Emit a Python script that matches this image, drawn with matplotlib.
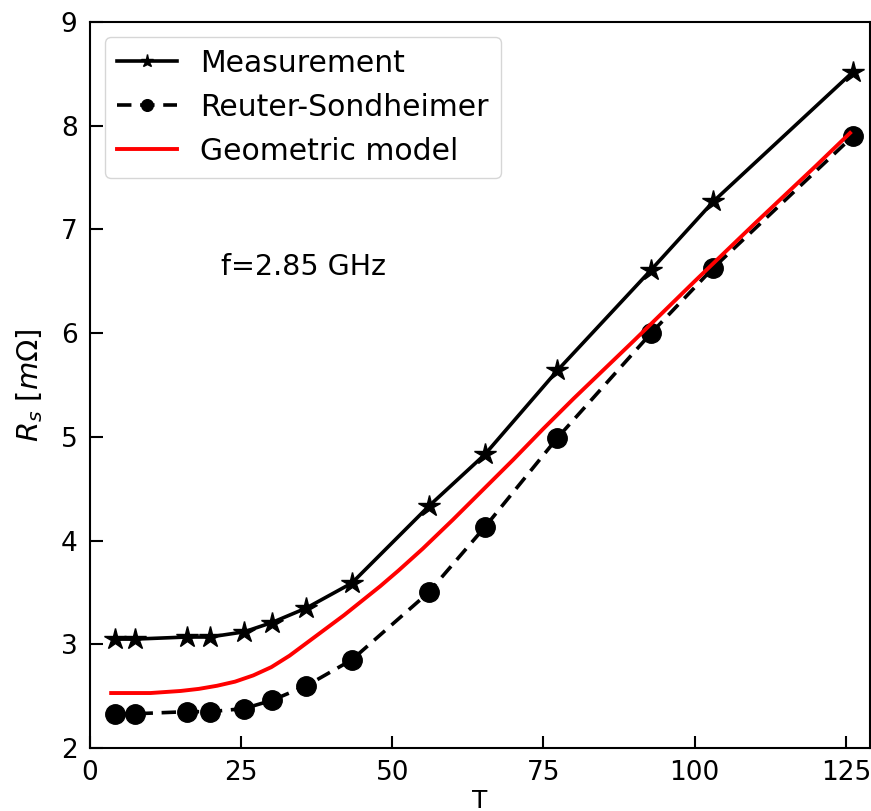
import matplotlib
matplotlib.use("Agg")
import matplotlib.pyplot as plt

# Data
temperature = [4.2, 7.4, 16.0, 19.8, 25.5, 30.1, 35.8, 43.3, 56.0, 65.3, 77.3, 92.8, 103.1, 126.2]
measurement = [3.05, 3.05, 3.07, 3.07, 3.12, 3.21, 3.35, 3.59, 4.33, 4.83, 5.64, 6.61, 7.27, 8.52]
reuter_sondheimer = [2.33, 2.33, 2.35, 2.35, 2.38, 2.46, 2.60, 2.85, 3.50, 4.13, 4.99, 6.00, 6.63, 7.90]

geo_T = [3.5, 10, 15, 18, 21, 24, 27, 30, 33, 36, 39, 42, 45, 48, 51, 55, 60, 65, 70, 75,
         80, 90, 100, 110, 120, 125.7]
geo_R = [2.53, 2.53, 2.55, 2.57, 2.60, 2.64, 2.70, 2.78, 2.89, 3.02, 3.15, 3.28, 3.42, 3.56,
         3.71, 3.92, 4.20, 4.49, 4.78, 5.08, 5.37, 5.93, 6.50, 7.06, 7.61, 7.93]

labels = ["Measurement", "Reuter-Sondheimer", "Geometric model"]
x_ticks = [0, 25, 50, 75, 100, 125]
y_ticks = [2, 3, 4, 5, 6, 7, 8, 9]

fig = plt.figure(figsize=(8.71, 8.11), dpi=100)
ax = fig.add_axes([90 / 871, 1 - 748 / 811, 780 / 871, 726 / 811])

ax.plot(temperature, measurement, color="black", linestyle="-", linewidth=2.6,
        marker="*", markersize=16, label=labels[0])
ax.plot(temperature, reuter_sondheimer, color="black", linewidth=2.6,
        linestyle=(0, (4.0, 2.4)), marker="o", markersize=14, label=labels[1])
ax.plot(geo_T, geo_R, color="red", linewidth=2.8, label=labels[2])

ax.set_xlim(0, 129)
ax.set_ylim(2, 9)
ax.set_xticks(x_ticks)
ax.set_yticks(y_ticks)
ax.tick_params(axis="both", direction="in", length=9, width=1.5, labelsize=19, pad=9,
               top=False, right=False)
for s in ax.spines.values():
    s.set_linewidth(1.5)

ax.set_xlabel("T", fontsize=18)
ax.xaxis.set_label_coords(0.5, -0.056)
ax.set_ylabel(r"$R_s$ $[m\Omega]$", fontsize=21)
ax.yaxis.set_label_coords(-0.058, 0.5)

ax.text(21.6, 6.64, "f=2.85 GHz", fontsize=20.5, ha="left", va="center")

leg = ax.legend(loc="upper left", fontsize=21.5, markerscale=0.6, numpoints=1,
                labelspacing=0.5, borderaxespad=0.5, handletextpad=0.8,
                fancybox=True)

fig.savefig("out.png", dpi=100)
